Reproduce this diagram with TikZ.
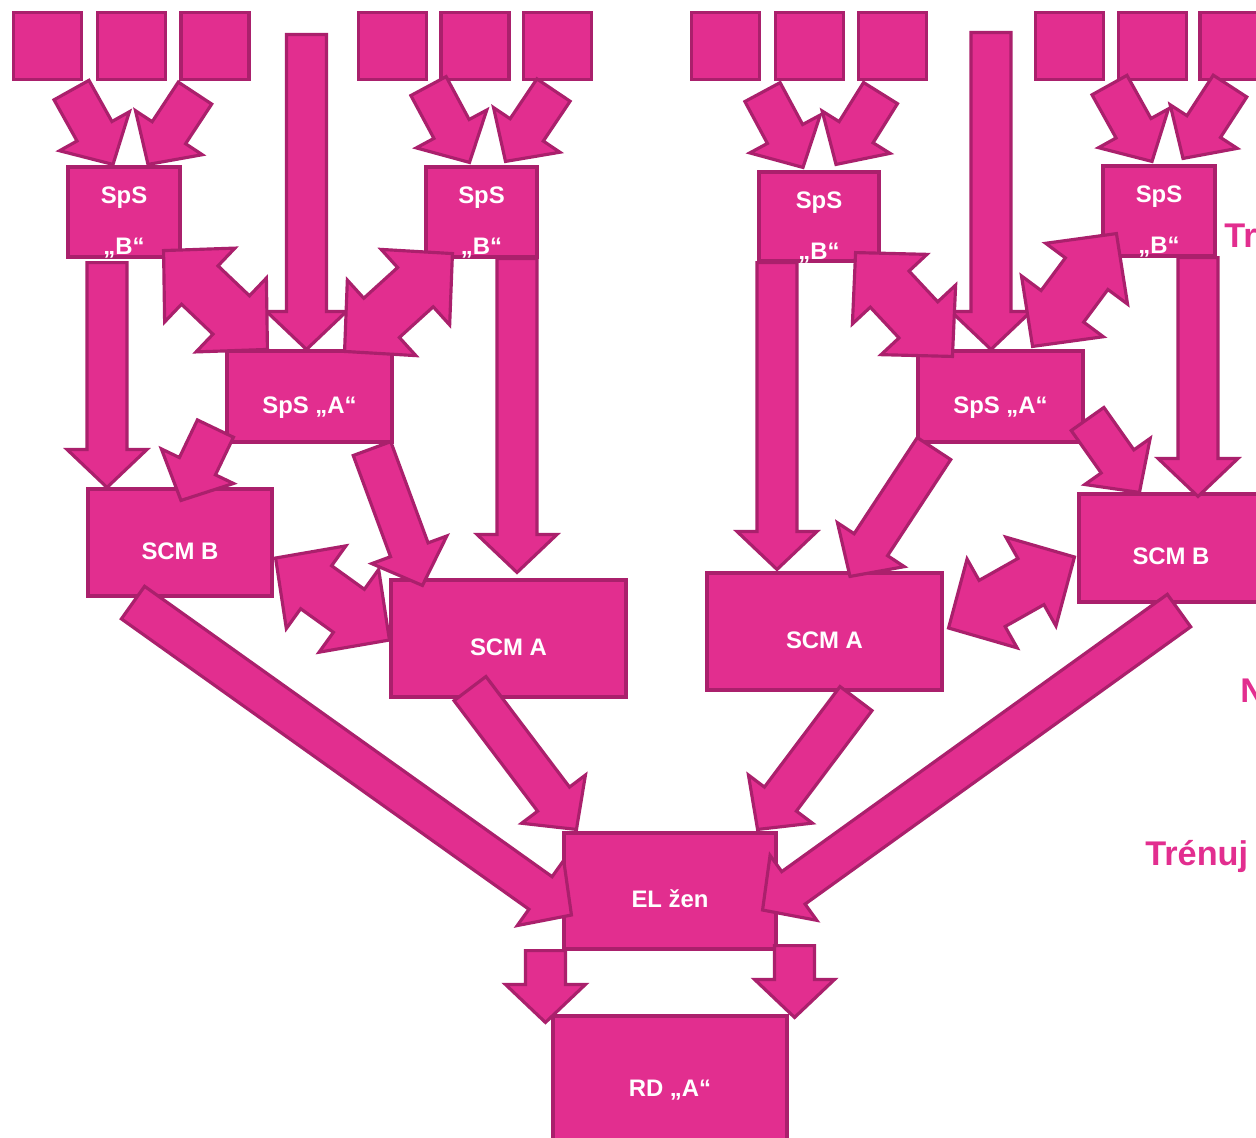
\documentclass[tikz,border=0pt]{standalone}
\usepackage{fontspec}
\setmainfont{Liberation Sans}
\usetikzlibrary{calc}

\definecolor{pinkfill}{RGB}{226,46,143}
\definecolor{pinkline}{RGB}{170,32,108}

\tikzset{
	blk/.style={draw=pinkline, fill=pinkfill, line width=1.8pt, line join=miter},
	sq/.style={blk, rectangle, inner sep=0pt, minimum width=1.36cm, minimum height=1.34cm},
	box/.style={blk, rectangle, inner sep=0pt, text=white, font=\bfseries\fontsize{13.6}{16}\selectfont, text height=19pt, text depth=0pt},
	lbl/.style={inner sep=0pt, text=white, font=\bfseries\fontsize{13.6}{16}\selectfont, text height=9.8pt, text depth=0pt},
	side/.style={inner sep=0pt, anchor=base west, text=pinkfill, font=\bfseries\fontsize{19.5}{23}\selectfont}
}

\newcommand{\blockarrow}[2]{%
	\coordinate (ta) at (#1);
	\coordinate (tb) at (#2);
	\coordinate (hb) at ($(tb)!0.76cm!(ta)$);
	\draw[blk] ($(ta)!0.4cm!90:(tb)$) -- ($(hb)!0.4cm!90:(tb)$) -- ($(hb)!0.8cm!90:(tb)$) -- (tb)
		-- ($(hb)!0.8cm!-90:(tb)$) -- ($(hb)!0.4cm!-90:(tb)$) -- ($(ta)!0.4cm!-90:(tb)$) -- cycle;
}

\newcommand{\doublearrow}[2]{%
	\coordinate (ta) at (#1);
	\coordinate (tb) at (#2);
	\coordinate (ha) at ($(ta)!1cm!(tb)$);
	\coordinate (hb) at ($(tb)!1cm!(ta)$);
	\draw[blk] (ta) -- ($(ha)!1.02cm!90:(tb)$) -- ($(ha)!0.53cm!90:(tb)$) -- ($(hb)!0.53cm!90:(tb)$) -- ($(hb)!1.02cm!90:(tb)$) -- (tb)
		-- ($(hb)!1.02cm!-90:(tb)$) -- ($(hb)!0.53cm!-90:(tb)$) -- ($(ha)!0.53cm!-90:(tb)$) -- ($(ha)!1.02cm!-90:(tb)$) -- cycle;
}

\begin{document}
\begin{tikzpicture}[x=0.02cm, y=-0.02cm]
	\useasboundingbox (0,0) rectangle (1256,1137);
	\clip (0,0) rectangle (1256,1137);

	\foreach \x [count=\i] in {47.5,131.5,215,392.5,475,557.5,725.5,809.5,892.5,1069.5,1152.5,1234}
		\node[sq] (q\i) at (\x,46) {};

	\node[box, minimum width=2.24cm, minimum height=1.8cm] (sb1) at (124,212) {};
	\node[box, minimum width=2.22cm, minimum height=1.8cm] (sb2) at (481.5,212) {};
	\node[box, minimum width=2.4cm, minimum height=1.78cm] (sb3) at (819,216.5) {};
	\node[box, minimum width=2.24cm, minimum height=1.8cm] (sb4) at (1159,211) {};
	\node[box, minimum width=3.3cm, minimum height=1.82cm] (a1) at (309.5,396.5) {SpS „A“};
	\node[box, minimum width=3.3cm, minimum height=1.82cm] (a2) at (1000.5,396.5) {SpS „A“};
	\node[box, minimum width=3.68cm, minimum height=2.14cm] (cb1) at (180,542.5) {SCM B};
	\node[box, minimum width=4.7cm, minimum height=2.34cm] (ca1) at (508.5,638.5) {SCM A};
	\node[box, minimum width=4.7cm, minimum height=2.34cm] (ca2) at (824.5,631.5) {SCM A};
	\node[box, minimum width=3.68cm, minimum height=2.16cm] (cb2) at (1171,548) {SCM B};
	\node[box, minimum width=4.24cm, minimum height=2.32cm] (el) at (670,891) {EL žen};
	\node[box, minimum width=4.68cm, minimum height=2.56cm] (rd) at (670,1080) {RD „A“};

	\foreach \n in {sb1,sb2,sb3,sb4} {
		\node[lbl] (\n-top) at ($(\n)+(0,-17)$) {SpS};
		\node[lbl] (\n-bot) at ($(\n)+(0,34)$) {„B“};
	}

	\coordinate (top1) at ($(a1.north)+(-3,-315)$);
	\coordinate (top2) at ($(a2.north)+(-9.5,-317)$);

	\blockarrow{$(q1.south)+(24,9)$}{$(sb1.north)+(-11,-1)$}
	\blockarrow{$(q3.south)+(-20,12)$}{$(sb1.north)+(24,-1)$}
	\blockarrow{$(q4.south)+(36,5)$}{$(sb2.north)+(-12,-3)$}
	\blockarrow{$(q6.south)+(-4,9)$}{$(sb2.north)+(24,-4)$}
	\blockarrow{$(q7.south)+(37,11)$}{$(sb3.north)+(-16,-3)$}
	\blockarrow{$(q9.south)+(-12,12)$}{$(sb3.north)+(17,-6)$}
	\blockarrow{$(q10.south)+(40,4)$}{$(sb4.north)+(-7,-3)$}
	\blockarrow{$(q12.south)+(-4,5)$}{$(sb4.north)+(24,-6)$}

	\blockarrow{top1}{$(a1.north)+(-3,0)$}
	\blockarrow{top2}{$(a2.north)+(-9.5,0)$}

	\blockarrow{$(sb1.south)+(-17,4)$}{$(cb1.north)+(-73,0)$}
	\blockarrow{$(sb2.south)+(35.5,0)$}{$(ca1.north)+(8.5,-6)$}
	\blockarrow{$(sb3.south)+(-42,0)$}{$(ca2.north)+(-47.5,-2)$}
	\blockarrow{$(sb4.south)+(39,0)$}{$(cb2.north)+(27,4)$}

	\blockarrow{$(a1.south west)+(-10,-15)$}{$(cb1.north)+(1,13)$}
	\blockarrow{$(a1.south)+(62.5,5)$}{$(ca1.north west)+(33,7)$}
	\blockarrow{$(a2.south)+(-66.5,5)$}{$(ca2.north)+(25.5,5)$}
	\blockarrow{$(a2.east)+(3,22.5)$}{$(cb2.north west)+(62,0)$}

	\doublearrow{$(sb1.south east)+(-18,-8)$}{$(a1.north west)+(42,0)$}
	\doublearrow{$(sb2.south west)+(28,-5)$}{$(a1.north east)+(-49,2)$}
	\doublearrow{$(sb3.south east)+(-25,-10)$}{$(a2.north west)+(36,7)$}
	\doublearrow{$(sb4.south west)+(15,-24)$}{$(a2.north east)+(-52,-3)$}
	\doublearrow{$(cb1.east)+(2,15.5)$}{$(ca1.west)+(0,1.5)$}
	\doublearrow{$(ca2.east)+(5,-3.5)$}{$(cb2.west)+(-3,9)$}

	\blockarrow{$(cb1.south)+(-47,5)$}{$(el.west)+(9,24)$}
	\blockarrow{$(ca1.south)+(-38.5,-10)$}{$(el.north west)+(14,-2)$}
	\blockarrow{$(ca2.south)+(31.5,7)$}{$(el.north east)+(-20,-2)$}
	\blockarrow{$(cb2.south)+(8,7)$}{$(el.east)+(-15,19)$}

	\blockarrow{$(el.south west)+(-17,0)$}{$(rd.north west)+(-6,8)$}
	\blockarrow{$(el.south east)+(17,-5)$}{$(rd.north east)+(6,3)$}

	\node[side] (tr) at (1224,247) {Tr};
	\node[side] (nn) at (1240,702) {N};
	\node[side] (trenuj) at (1145,865) {Trénuj};
\end{tikzpicture}
\end{document}
